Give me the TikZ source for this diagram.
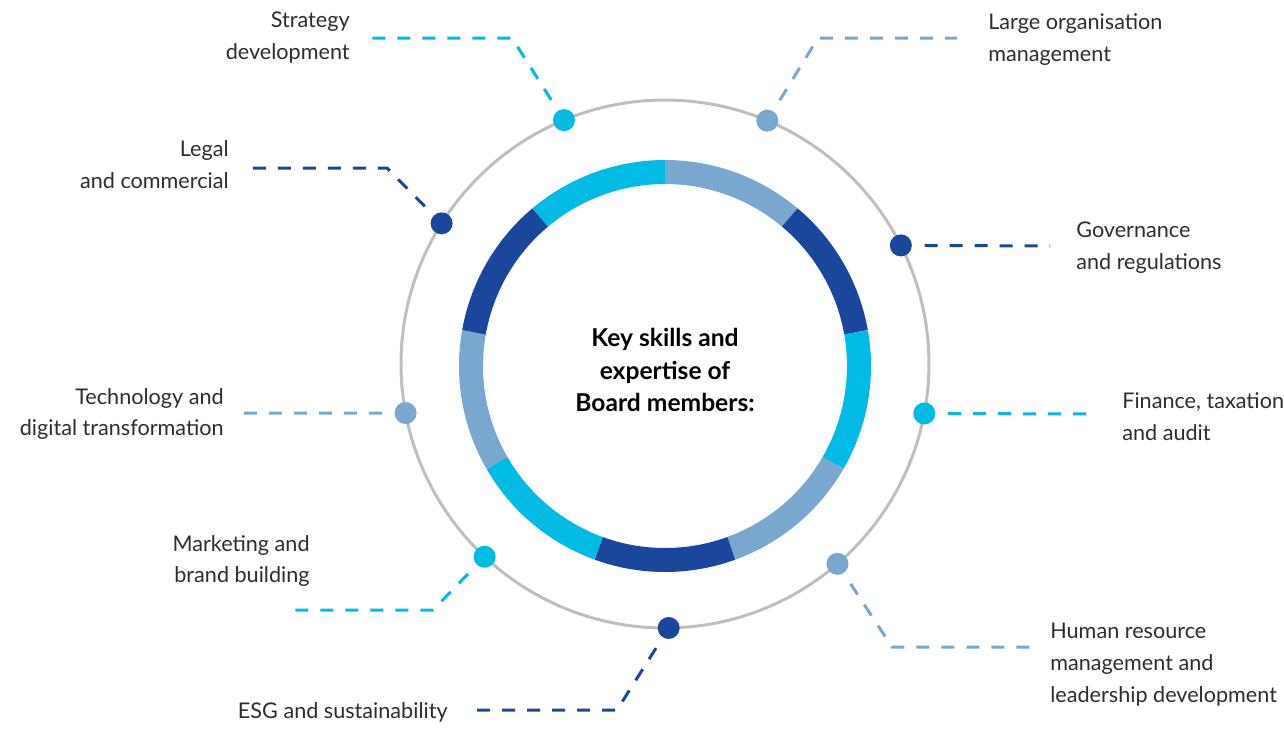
\documentclass[tikz,border=0pt]{standalone}
\usepackage{fontspec}
\setmainfont{Lato}
\usepackage{tikz}
\usetikzlibrary{calc}
\definecolor{skcyan}{RGB}{0,187,228}
\definecolor{sklight}{RGB}{122,167,208}
\definecolor{skdark}{RGB}{26,71,155}
\definecolor{skgrey}{RGB}{190,190,190}
\definecolor{sktext}{RGB}{45,45,45}
\tikzset{
	dot/.style={circle, fill=#1, minimum size=0.44cm, inner sep=0},
	lead/.style={draw=#1, line width=0.06cm, dash pattern=on 0.26cm off 0.24cm, shorten <=0.25cm},
	lbl/.style={font=\fontsize{12.3}{18.2}\selectfont, text=sktext, inner sep=0, align=#1},
	seg/.style={draw=#1, line width=0.48cm}
}

\begin{document}
\begin{tikzpicture}[x=0.02cm, y=0.02cm]
			%%%%% START %%%%%
			\useasboundingbox (-665,-364) rectangle (619,364);
			
			\draw[skgrey, line width=0.06cm] (0,0) circle (5.28cm);
			
			\foreach \a/\c in {90/sklight, 50/skdark, 10/skcyan, -30/sklight, -70/skdark, -110/skcyan, -150/sklight, 170/skdark, 130/skcyan}
				\draw[seg=\c] (0,-2) ++(\a:194) arc (\a:\a-40:3.88cm);
			
			\node[font=\bfseries\fontsize{14}{18.7}\selectfont, align=center, inner sep=0] (title) at (0,-6) {Key skills and\\expertise of\\Board members:};
			
			%% dots on the grey circle
			\node[dot=skcyan] (dS) at (112.5:264) {};
			\node[dot=sklight] (dL) at (67.2:264) {};
			\node[dot=skdark] (dC) at (147.8:264) {};
			\node[dot=skdark] (dG) at (26.7:264) {};
			\node[dot=sklight] (dT) at (190.7:264) {};
			\node[dot=skcyan] (dF) at (-10.8:264) {};
			\node[dot=skcyan] (dM) at (226.9:264) {};
			\node[dot=sklight] (dH) at (-49.2:264) {};
			\node[dot=skdark] (dE) at (-89.2:264) {};
			
			%% leaders
			\coordinate (kS) at (-153,326); \coordinate (eS) at (-297,326);
			\draw[lead=skcyan] (dS) -- (kS) -- (eS);
			\coordinate (kL) at (153,326); \coordinate (eL) at (292,326);
			\draw[lead=sklight] (dL) -- (kL) -- (eL);
			\coordinate (kC) at (-278,196); \coordinate (eC) at (-422,196);
			\draw[lead=skdark] (dC) -- (kC) -- (eC);
			\coordinate (eG) at (385,118);
			\draw[lead=skdark] (dG) -- (eG);
			\coordinate (eT) at (-424,-49);
			\draw[lead=sklight] (dT) -- (eT);
			\coordinate (eF) at (427,-50);
			\draw[lead=skcyan] (dF) -- (eF);
			\coordinate (kM) at (-232,-246); \coordinate (eM) at (-376,-246);
			\draw[lead=skcyan] (dM) -- (kM) -- (eM);
			\coordinate (kH) at (227,-283); \coordinate (eH) at (370,-283);
			\draw[lead=sklight] (dH) -- (kH) -- (eH);
			\coordinate (kE) at (-48,-346); \coordinate (eE) at (-192,-346);
			\draw[lead=skdark] (dE) -- (kE) -- (eE);
			
			%% labels
			\node[lbl=right, anchor=east] (tS) at (-315,326) {Strategy\\development};
			\node[lbl=left, anchor=west] (tL) at (323,324) {Large organisation\\management};
			\node[lbl=right, anchor=east] (tC) at (-436,199) {Legal\\and commercial};
			\node[lbl=left, anchor=west] (tG) at (411,116) {Governance\\and regulations};
			\node[lbl=right, anchor=east] (tT) at (-441,-50) {Technology and\\digital transformation};
			\node[lbl=left, anchor=west] (tF) at (457,-53) {Finance, taxation\\and audit};
			\node[lbl=right, anchor=east] (tM) at (-355,-197) {Marketing and\\brand building};
			\node[lbl=left, anchor=west] (tH) at (385,-301) {Human resource\\management and\\leadership development};
			\node[lbl=right, anchor=east] (tE) at (-217,-348) {ESG and sustainability};
			
			%%%%% END %%%%%
		\end{tikzpicture}
\end{document}
